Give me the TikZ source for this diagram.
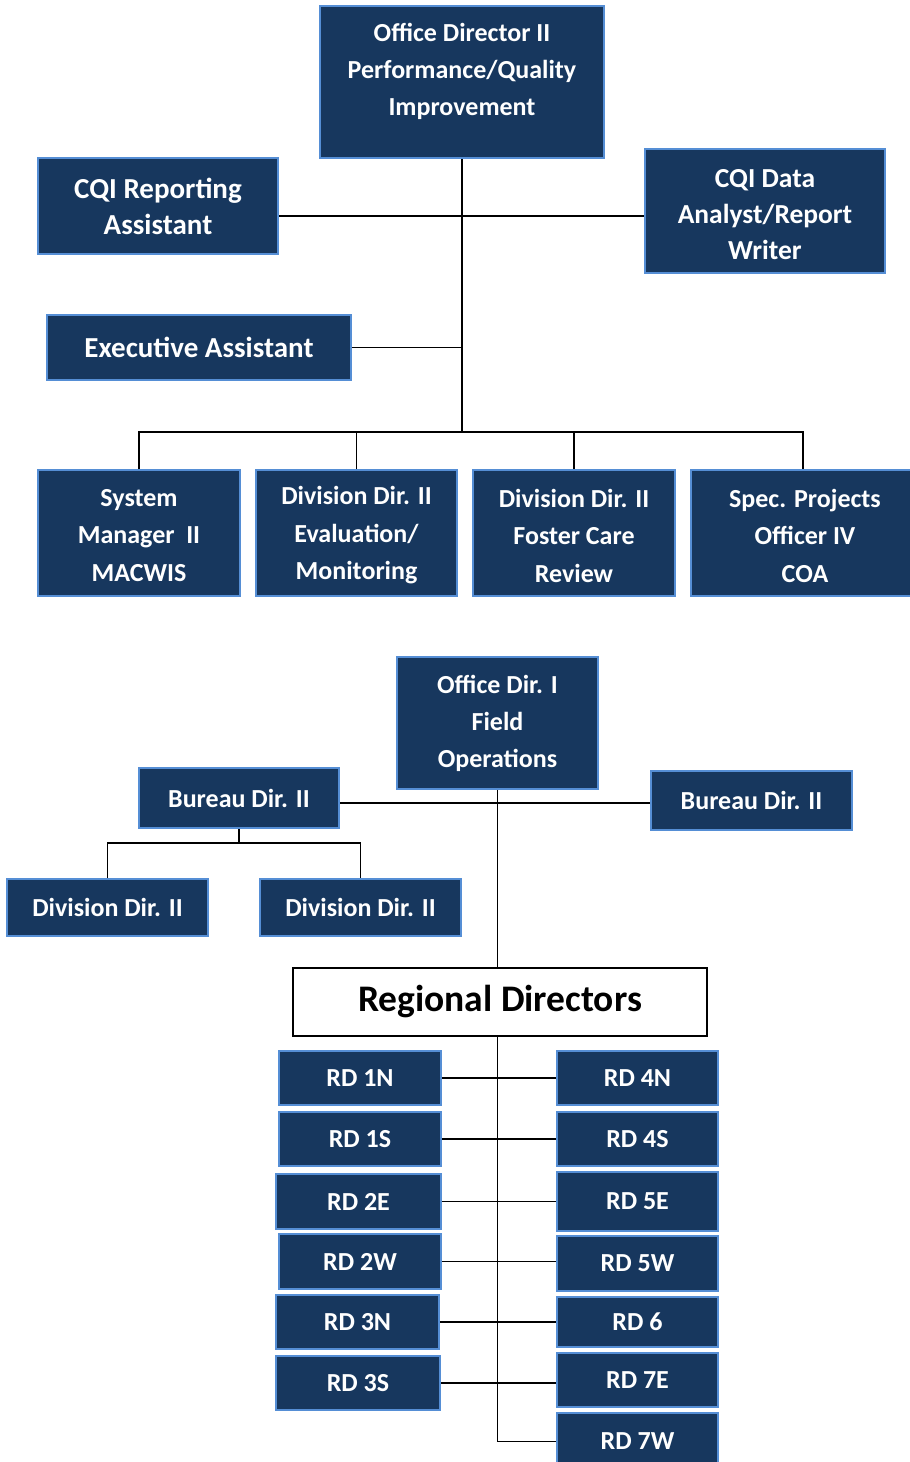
\documentclass[tikz,border=0pt]{standalone}
\usepackage{fontspec}
\setmainfont{Carlito}
\definecolor{boxfill}{HTML}{17375E}
\definecolor{boxline}{HTML}{558ED5}

\begin{document}
\begin{tikzpicture}[x=1pt,y=-1pt,line width=1.8pt,
    box/.style={draw=boxline,fill=boxfill,line width=2pt,text=white,align=center,
        inner sep=0pt,font=\bfseries\fontsize{26}{37}\selectfont},
    bigtext/.style={font=\bfseries\fontsize{29}{36}\selectfont},
    rowtext/.style={font=\bfseries\fontsize{26}{37.5}\selectfont},
    rd/.style={box,minimum width=162,minimum height=54}]
    \useasboundingbox (0,0) rectangle (910,1462);

    % performance / quality improvement
    \node[box,minimum width=284,minimum height=152] (odq) at (462,82) {};
    \node[text=white,align=center,inner sep=0pt,font=\bfseries\fontsize{26}{37}\selectfont]
        (odqtext) at (462,71.5) {Office Director II\\Performance/Quality\\Improvement};
    \node[box,bigtext,minimum width=240,minimum height=96] (cqirep) at (158,206) {CQI Reporting\\Assistant};
    \node[box,minimum width=240,minimum height=124,font=\bfseries\fontsize{27.5}{36}\selectfont]
        (cqidata) at (765,211) {};
    \node[text=white,align=center,inner sep=0pt,font=\bfseries\fontsize{27.5}{36}\selectfont]
        (cqidatatext) at (765,215) {CQI Data\\Analyst/Report\\Writer};
    \node[box,bigtext,minimum width=304,minimum height=65] (exec) at (199,347.5) {Executive Assistant};
    \node[box,rowtext,minimum width=202,minimum height=126] (sysman) at (139,533) {};
    \node[box,rowtext,minimum width=201,minimum height=126] (eval) at (356.5,533) {};
    \node[box,rowtext,minimum width=202,minimum height=126] (fcr) at (574,533) {};
    \node[box,rowtext,minimum width=224,minimum height=126] (spec) at (803,533) {};
    \node[text=white,align=center,rowtext] (sysmantext) at (139,535.5) {System\\Manager~~II\\MACWIS};
    \node[text=white,align=center,rowtext] (evaltext) at (356.5,535.5) {Division Dir. II\\Evaluation/\\Monitoring};
    \node[text=white,align=center,rowtext] (fcrtext) at (574,535.5) {Division Dir. II\\Foster Care\\Review};
    \node[text=white,align=center,rowtext] (spectext) at (805,535.5) {Spec. Projects\\Officer IV\\COA};

    \coordinate (info) at (462,216);
    \coordinate (bus) at (462,432);
    \draw (odq.south) -- (bus);
    \draw (cqirep.east |- info) -- (cqidata.west |- info);
    \draw (exec.east) -- (exec.east -| odq.south);
    \draw (sysman.north) |- (bus) -| (spec.north);
    \draw (eval.north) -- (eval.north |- bus);
    \draw (fcr.north) -- (fcr.north |- bus);

    % field operations
    \node[box,minimum width=201,minimum height=132] (fieldop) at (497.5,723) {Office Dir. I\\Field\\Operations};
    \node[box,minimum width=200,minimum height=60] (bureauL) at (239,798) {Bureau Dir. II};
    \node[box,minimum width=201,minimum height=59] (bureauR) at (751.5,800.5) {Bureau Dir. II};
    \node[box,minimum width=201,minimum height=57] (divL) at (107.5,907.5) {Division Dir. II};
    \node[box,minimum width=201,minimum height=57] (divR) at (360.5,907.5) {Division Dir. II};
    \node[draw,fill=white,line width=2pt,minimum width=414,minimum height=68,inner sep=0pt,
        font=\bfseries\fontsize{37.5}{40}\selectfont] (regdir) at (500,1002) {Regional Directors};

    \coordinate (bureaus) at (497.5,803);
    \coordinate (divbus) at (239,843);
    \draw (fieldop.south) -- (fieldop.south |- regdir.north);
    \draw (bureauL.east |- bureaus) -- (bureauR.west |- bureaus);
    \draw (bureauL.south) -- (divbus);
    \draw (divL.north) |- (divbus) -| (divR.north);

    % regional directors
    \node[rd] (rd1n) at (360,1078) {RD 1N};
    \node[rd] (rd1s) at (360,1139) {RD 1S};
    \node[rd,minimum width=165,minimum height=55] (rd2e) at (358.5,1201.5) {RD 2E};
    \node[rd,minimum height=55] (rd2w) at (360,1261.5) {RD 2W};
    \node[rd,minimum width=163] (rd3n) at (357.5,1322) {RD 3N};
    \node[rd,minimum width=164] (rd3s) at (358,1383) {RD 3S};
    \node[rd,minimum width=161] (rd4n) at (637.5,1078) {RD 4N};
    \node[rd,minimum width=161] (rd4s) at (637.5,1139) {RD 4S};
    \node[rd,minimum width=161,minimum height=59] (rd5e) at (637.5,1201.5) {RD 5E};
    \node[rd,minimum width=161,minimum height=55] (rd5w) at (637.5,1263.5) {RD 5W};
    \node[rd,minimum width=161,minimum height=50] (rd6) at (637.5,1322) {RD 6};
    \node[rd,minimum width=161] (rd7e) at (637.5,1380) {RD 7E};
    \node[rd,minimum width=161,minimum height=57] (rd7w) at (637.5,1441.5) {RD 7W};

    \draw (fieldop.south |- regdir.south) |- (rd7w.west);
    \draw (rd1n.east) -- (rd1n.east -| rd4n.west);
    \draw (rd1s.east) -- (rd1s.east -| rd4s.west);
    \draw (rd2e.east) -- (rd2e.east -| rd5e.west);
    \draw (rd2w.east) -- (rd2w.east -| rd5w.west);
    \draw (rd3n.east) -- (rd3n.east -| rd6.west);
    \draw (rd3s.east) -- (rd3s.east -| rd7e.west);
\end{tikzpicture}
\end{document}
